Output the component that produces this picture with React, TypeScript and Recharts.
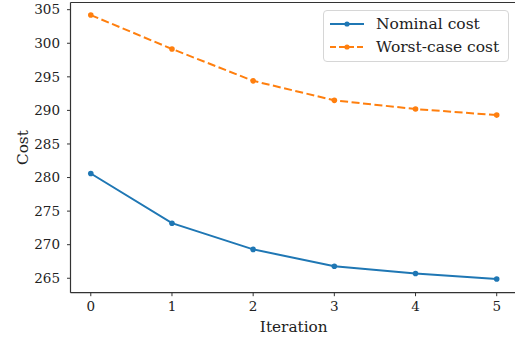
import { LineChart, Line, XAxis, YAxis, ReferenceLine } from "recharts"

const iterations = [0, 1, 2, 3, 4, 5]
const nominalCost = [280.6, 273.2, 269.3, 266.8, 265.7, 264.9]
const worstCaseCost = [304.2, 299.15, 294.4, 291.5, 290.2, 289.3]
const yTicks = [265, 270, 275, 280, 285, 290, 295, 300, 305]
const yTop = 306.07

const data = iterations.map((it, i) => ({
  it,
  nominal: nominalCost[i],
  worst: worstCaseCost[i],
}))

const serif = "'DejaVu Serif', serif"
const blue = "#1f77b4"
const orange = "#ff7f0e"

function LegendBox() {
  const rows = [
    { name: "Nominal cost", color: blue, dash: undefined },
    { name: "Worst-case cost", color: orange, dash: "6 3" },
  ]
  return (
    <div
      style={{
        position: "absolute",
        top: 10,
        left: 323,
        width: 186,
        height: 52,
        border: "1px solid #d6d6d6",
        borderRadius: 4,
        background: "rgba(255,255,255,0.8)",
        boxSizing: "border-box",
        paddingTop: 2,
      }}
    >
      {rows.map((r) => (
        <div key={r.name} style={{ display: "flex", alignItems: "center", height: 22.5 }}>
          <svg width={46} height={12} style={{ marginLeft: 5 }}>
            <line x1={1} x2={35} y1={6} y2={6} stroke={r.color} strokeWidth={2} strokeDasharray={r.dash} />
            <circle cx={18} cy={6} r={2.6} fill={r.color} />
          </svg>
          <span style={{ fontFamily: serif, fontSize: 15.5, color: "#222", marginLeft: 1 }}>{r.name}</span>
        </div>
      ))}
    </div>
  )
}

export default function App() {
  const tickStyle = { fontFamily: serif, fontSize: 13.5, fill: "#222" }
  return (
    <div style={{ position: "absolute", left: 0, top: 0, width: 515, height: 338, overflow: "hidden", background: "#fff" }}>
      <LineChart width={517} height={338} data={data} margin={{ top: 2.5, right: 0, bottom: 0, left: 0 }}>
        <XAxis
          dataKey="it"
          type="number"
          domain={[-0.25, 5.25]}
          ticks={iterations}
          allowDataOverflow
          height={45.3}
          tickSize={3.5}
          tickMargin={5}
          tick={tickStyle}
          axisLine={{ stroke: "#333", strokeWidth: 1.2 }}
          tickLine={{ stroke: "#333" }}
          label={{ value: "Iteration", position: "center", dy: 11, style: { fontFamily: serif, fontSize: 15.3, fill: "#222" } }}
        />
        <YAxis
          type="number"
          domain={[262.85, yTop]}
          ticks={yTicks}
          allowDataOverflow
          width={70.5}
          tickSize={3.5}
          tickMargin={7}
          tick={tickStyle}
          axisLine={{ stroke: "#333", strokeWidth: 1.2 }}
          tickLine={{ stroke: "#333" }}
          label={{ value: "Cost", angle: -90, position: "center", dx: -13, style: { fontFamily: serif, fontSize: 15.3, fill: "#222" } }}
        />
        <ReferenceLine y={yTop} stroke="#333" strokeWidth={1.2} ifOverflow="extendDomain" />
        <Line
          dataKey="nominal"
          stroke={blue}
          strokeWidth={2}
          dot={{ r: 2.8, fill: blue, stroke: blue, strokeWidth: 0 }}
          isAnimationActive={false}
        />
        <Line
          dataKey="worst"
          stroke={orange}
          strokeWidth={2}
          strokeDasharray="8 3.5"
          dot={{ r: 2.8, fill: orange, stroke: orange, strokeWidth: 0, strokeDasharray: "" }}
          isAnimationActive={false}
        />
      </LineChart>
      <LegendBox />
    </div>
  )
}
